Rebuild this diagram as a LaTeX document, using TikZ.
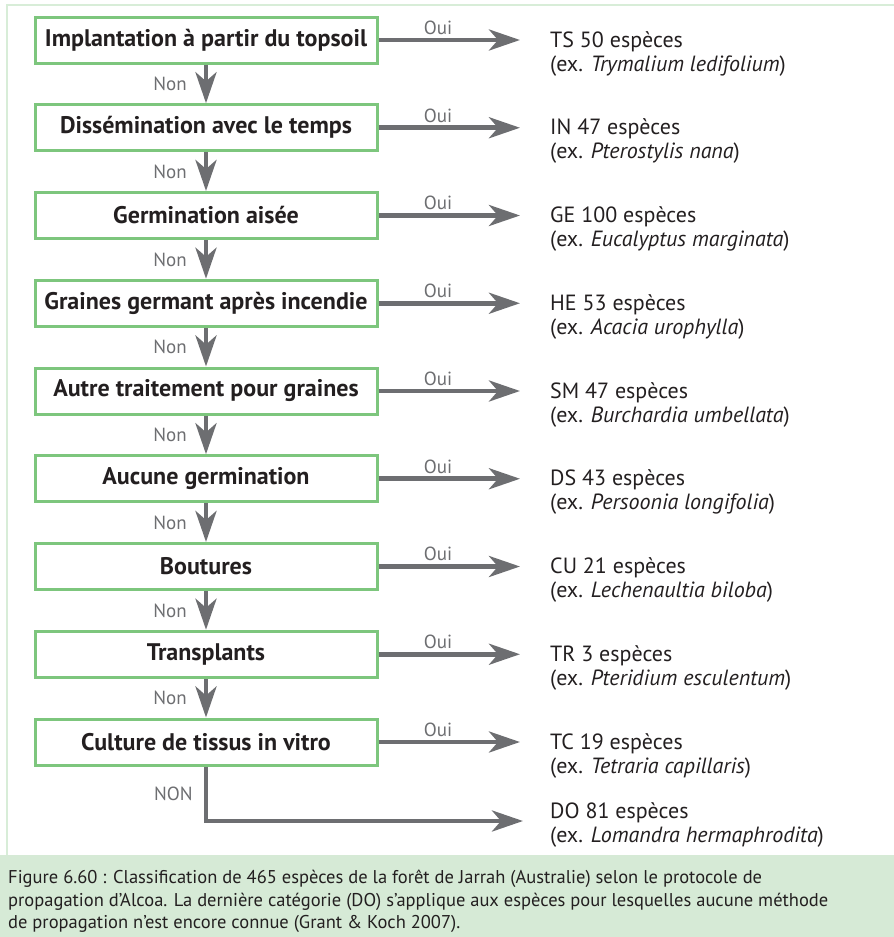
\documentclass[tikz,border=0pt]{standalone}
\usepackage{fontspec}
\setmainfont{PT Sans}
\usetikzlibrary{arrows.meta}
\definecolor{boxgreen}{RGB}{125,198,125}
\definecolor{framegreen}{RGB}{216,237,216}
\definecolor{capgreen}{RGB}{214,234,214}
\definecolor{flowgray}{RGB}{109,110,113}
\definecolor{inkblack}{RGB}{35,31,32}
\tikzset{
  question/.style={draw=boxgreen,line width=3pt,fill=white,minimum width=342pt,minimum height=46pt,inner sep=0pt,text=inkblack,font=\fontsize{24}{28}\selectfont\bfseries},
  result/.style={anchor=base west,align=left,inner sep=0pt,text=inkblack,font=\fontsize{22}{24}\selectfont},
  flow/.style={draw=flowgray,line width=4.7pt,-{Stealth[length=31pt,width=21pt,inset=9pt]}},
  answer/.style={inner sep=3pt,text=flowgray,font=\fontsize{19}{19}\selectfont},
}
\begin{document}
\begin{tikzpicture}[x=1pt,y=-1pt]
  \def\W{894};\def\H{937};\def\cap{855};
  \useasboundingbox (0,0) rectangle (\W,\H);
  % frame and caption
  \draw[framegreen,line width=2.5pt] (7,\cap) -- (7,5) -- (\W+5,5);
  \fill[capgreen] (0,\cap) rectangle (\W,\H);
  \node[anchor=north west,align=left,inner sep=0pt,text=inkblack,font=\fontsize{18.5}{22.5}\selectfont] (legende) at (8,\cap+15)
    {Figure 6.60 : Classification de 465 espèces de la forêt de Jarrah (Australie) selon le protocole de\\
     propagation d’Alcoa. La dernière catégorie (DO) s’applique aux espèces pour lesquelles aucune méthode\\
     de propagation n’est encore connue (Grant \& Koch 2007).};
  % questions and results
  \foreach \q/\cat/\ex [count=\i] in {
      Implantation à partir du topsoil/TS 50/Trymalium ledifolium,
      Dissémination avec le temps/IN 47/Pterostylis nana,
      Germination aisée/GE 100/Eucalyptus marginata,
      Graines germant après incendie/HE 53/Acacia urophylla,
      Autre traitement pour graines/SM 47/Burchardia umbellata,
      Aucune germination/DS 43/Persoonia longifolia,
      Boutures/CU 21/Lechenaultia biloba,
      Transplants/TR 3/Pteridium esculentum,
      Culture de tissus in vitro/TC 19/Tetraria capillaris}{
    \pgfmathsetmacro\yc{40+(\i-1)*87.75}
    \node[question] (q\i) at (206,\yc) {\q};
    \node[result] (r\i) at (550,\yc+31) {\cat\ espèces\\(ex. \textit{\ex})};
    \coordinate (tip\i) at (520,\yc);
    \draw[flow] (q\i.east) -- node[answer,above,pos=0.42]{Oui} (tip\i);
  }
  \foreach \i [evaluate=\i as \j using int(\i+1)] in {1,...,8}
    \draw[flow] (q\i) -- node[answer,left,xshift=-14pt]{Non} (q\j);
  % last category
  \node[result] (r10) at (550,842) {DO 81 espèces\\(ex. \textit{Lomandra hermaphrodita})};
  \coordinate (tip10) at (523,821);
  \draw[flow] (q9.south) |- node[answer,left,pos=0.25,xshift=-8pt]{NON} (tip10);
\end{tikzpicture}
\end{document}
